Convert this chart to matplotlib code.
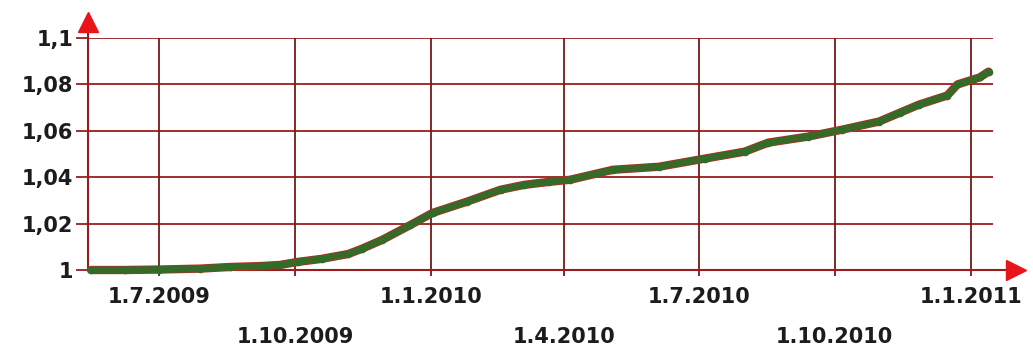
import matplotlib
matplotlib.use("Agg")
import matplotlib.pyplot as plt
import matplotlib.dates as mdates
from datetime import date

# ---- data ----
dates = ["2009-05-16", "2009-06-08", "2009-07-01", "2009-07-29", "2009-08-18",
         "2009-09-08", "2009-09-21", "2009-10-03", "2009-10-19", "2009-11-06",
         "2009-11-15", "2009-11-29", "2009-12-18", "2010-01-02", "2010-01-25",
         "2010-02-17", "2010-03-05", "2010-03-22", "2010-04-05", "2010-05-04",
         "2010-06-04", "2010-07-05", "2010-08-01", "2010-08-17", "2010-09-13",
         "2010-10-06", "2010-10-31", "2010-11-14", "2010-11-27", "2010-12-16",
         "2010-12-23", "2011-01-07", "2011-01-13"]
values = [1.0000, 1.0000, 1.0002, 1.0006, 1.0013,
          1.0017, 1.0022, 1.0035, 1.0048, 1.0069,
          1.0091, 1.0130, 1.0194, 1.0246, 1.0294,
          1.0346, 1.0367, 1.0380, 1.0389, 1.0432,
          1.0445, 1.0480, 1.0510, 1.0549, 1.0575,
          1.0605, 1.0640, 1.0678, 1.0713, 1.0752,
          1.0800, 1.0830, 1.0855]

x_tick_dates = ["2009-07-01", "2009-10-01", "2010-01-01", "2010-04-01",
                "2010-07-01", "2010-10-01", "2011-01-01"]
x_tick_labels = ["1.7.2009", "1.10.2009", "1.1.2010", "1.4.2010",
                 "1.7.2010", "1.10.2010", "1.1.2011"]
y_ticks = [1.0, 1.02, 1.04, 1.06, 1.08, 1.1]
y_tick_labels = ["1", "1,02", "1,04", "1,06", "1,08", "1,1"]

x_range = ["2009-05-14", "2011-01-16"]

to_num = lambda s: mdates.date2num(date.fromisoformat(s))

xs = [to_num(d) for d in dates]
xt = [to_num(d) for d in x_tick_dates]

grid_col = "#9a1c1c"
font = dict(family="DejaVu Sans", weight="bold", size=15, color="#1c1c1c")

fig = plt.figure(figsize=(10.33, 3.53), dpi=100)
W, H = 1033, 353
ax = fig.add_axes([88 / W, 1 - 270 / H, (993 - 88) / W, (270 - 38) / H])

ax.set_xlim(to_num(x_range[0]), to_num(x_range[1]))
ax.set_ylim(1.0, 1.1)

for s in ax.spines.values():
    s.set_visible(False)

# grid
for y in y_ticks[1:]:
    ax.axhline(y, color=grid_col, lw=1.3, zorder=1)
for x in xt:
    ax.axvline(x, color="#7a1818", lw=1.3, zorder=1)

# axes lines with arrows
ax.plot([0, 0], [0, 1.03], transform=ax.transAxes, color=grid_col, lw=1.5,
        clip_on=False, zorder=2)
ax.plot([0, 1.02], [0, 0], transform=ax.transAxes, color=grid_col, lw=1.5,
        clip_on=False, zorder=2)
ax.plot([0], [1.068], marker="^", ms=15, color="#e8141a", transform=ax.transAxes,
        clip_on=False, zorder=5)
ax.plot([1.025], [0], marker=">", ms=15, color="#e8141a", transform=ax.transAxes,
        clip_on=False, zorder=5)

# ticks
ax.set_yticks(y_ticks)
ax.set_yticklabels(y_tick_labels, **font)
ax.tick_params(axis="y", length=8.5, width=1.3, color=grid_col, pad=2)
ax.set_xticks(xt)
ax.set_xticklabels([])
ax.tick_params(axis="x", length=4.5, width=1.3, color="#7a1818")

for i, (x, lab) in enumerate(zip(xt, x_tick_labels)):
    off = -19.5 if i % 2 == 0 else -48.2
    ax.annotate(lab, xy=(x, 0), xycoords=("data", "axes fraction"),
                xytext=(0, off), textcoords="offset points",
                ha="center", va="center", **font)

# series
ax.plot(xs, values, color="#c4241c", lw=6, solid_capstyle="round",
        clip_on=False, zorder=3)
ax.plot(xs, values, color="#2f6f2a", lw=5, marker="o", ms=4.5,
        solid_capstyle="round", clip_on=False, zorder=4, alpha=0.95)

fig.savefig("out.png", dpi=100, facecolor="white")
